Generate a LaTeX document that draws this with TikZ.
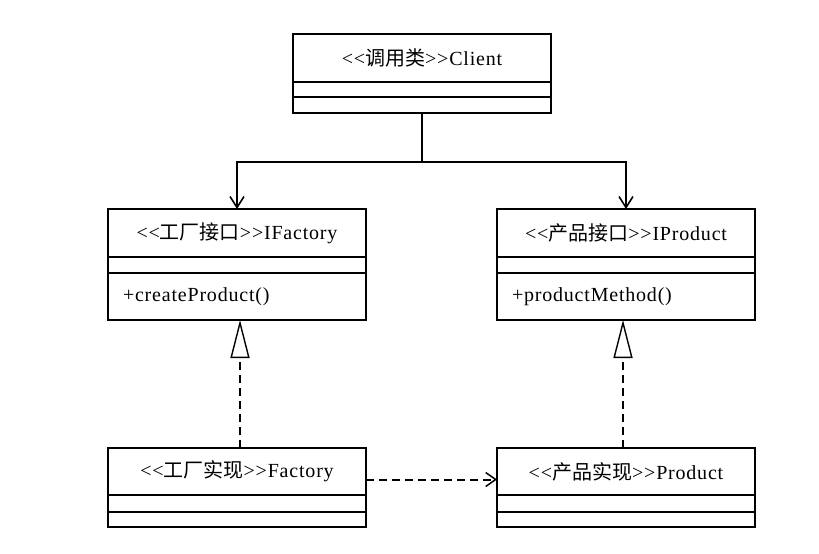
\documentclass[tikz,border=0pt]{standalone}
\usepackage{fontspec}
\setmainfont{Liberation Serif}[LetterSpace=4]
\newfontfamily\cjk{Noto Sans CJK SC}
\usetikzlibrary{arrows.meta,positioning}
\newcommand{\zh}[1]{{\cjk #1}}
\newcommand{\stereo}[1]{<{}<\zh{#1}>{}>}
\tikzset{
  classhead/.style={
    rectangle, draw, line width=1.2pt, outer sep=0pt,
    minimum width=258pt, minimum height=#1, inner sep=0pt,
    font=\fontsize{20}{22}\selectfont, anchor=north west
  },
  classhead/.default=48pt,
  classpart/.style={
    rectangle, draw, line width=1.2pt, outer sep=0pt,
    minimum width=258pt, minimum height=#1, inner ysep=0pt,
    inner xsep=15pt, text width=228pt, align=left,
    font=\fontsize{20}{22}\selectfont
  },
  classpart/.default=16pt,
  assoc/.style={-{Straight Barb[length=11pt,width=14pt]}, line width=1.6pt},
  realize/.style={-{Triangle[open,fill=white,length=38pt,width=19pt,line width=1.4pt]},
    line width=2pt, dash pattern=on 8pt off 5pt},
  depend/.style={-{Straight Barb[length=10pt,width=14pt,line width=1.5pt]},
    line width=2pt, dash pattern=on 8pt off 5pt},
}
\begin{document}
\begin{tikzpicture}[x=1pt, y=-1pt]
\useasboundingbox (0,0) rectangle (819,554);

% Client
\node[classhead] (client) at (293,34) {\stereo{调用类}Client};
\node[classpart=15pt, below=0pt of client] (client-attr) {};
\node[classpart, below=0pt of client-attr] (client-ops) {};

% Factory interface
\node[classhead] (ifactory) at (108,209) {\stereo{工厂接口}IFactory};
\node[classpart, below=0pt of ifactory] (ifactory-attr) {};
\node[classpart=47pt, below=0pt of ifactory-attr] (ifactory-ops) {+createProduct()};

% Product interface
\node[classhead] (iproduct) at (497,209) {\stereo{产品接口}IProduct};
\node[classpart, below=0pt of iproduct] (iproduct-attr) {};
\node[classpart=47pt, below=0pt of iproduct-attr] (iproduct-ops) {+productMethod()};

% Implementations
\node[classhead=47pt] (factory) at (108,448) {\stereo{工厂实现}Factory};
\node[classpart=17pt, below=0pt of factory] (factory-attr) {};
\node[classpart=15pt, below=0pt of factory-attr] (factory-ops) {};

\node[classhead=47pt] (product) at (497,448) {\stereo{产品实现}Product};
\node[classpart=17pt, below=0pt of product] (product-attr) {};
\node[classpart=15pt, below=0pt of product-attr] (product-ops) {};

% Associations
\coordinate (split) at (422,162);
\draw[assoc] (client-ops.south) -- (split) -| (ifactory.north);
\draw[assoc] (split) -| (iproduct.north);

% Realizations
\draw[realize] ([xshift=3pt]factory.north) -- ([xshift=3pt]ifactory-ops.south);
\draw[realize] ([xshift=-3pt]product.north) -- ([xshift=-3pt]iproduct-ops.south);

% Dependency
\draw[depend] ([yshift=-8pt]factory.east) -- ([yshift=-8pt]product.west);

\end{tikzpicture}
\end{document}
